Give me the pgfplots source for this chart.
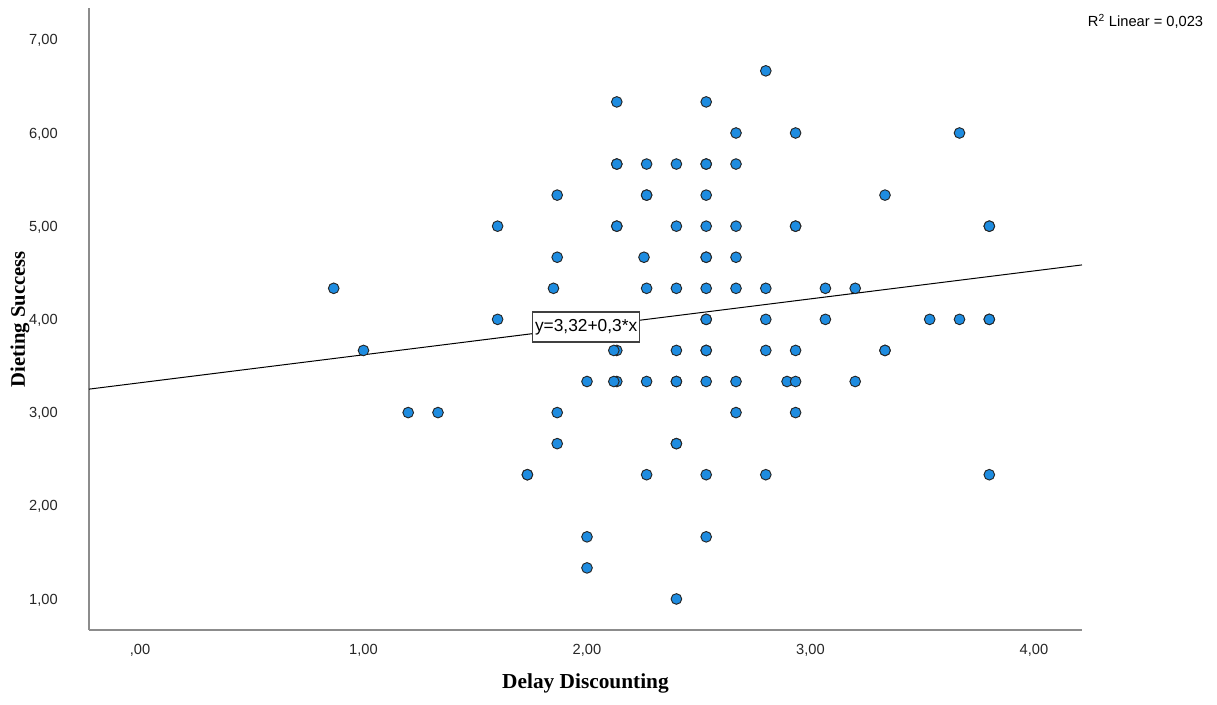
\documentclass[border=0pt]{standalone}
\usepackage{pgfplots}
\pgfplotsset{compat=1.18}
\usepackage{fontspec}
\setmainfont{Liberation Sans}
\newfontfamily\serifb{Liberation Serif}
\definecolor{dotblue}{HTML}{1E8CE0}
\definecolor{axgray}{HTML}{8C8C8C}
\begin{document}
\begin{tikzpicture}
\begin{axis}[
  at={(0,0)}, anchor=south west,
  scale only axis, width=744.75pt, height=466.5pt,
  xmin=-0.2282, xmax=4.2148, ymin=0.667, ymax=7.341,
  axis lines*=left, axis line style={-, axgray, line width=1.1pt},
  major tick length=0pt,
  xtick={0,1,2,3,4}, xticklabels={{,00},{1,00},{2,00},{3,00},{4,00}},
  ytick={1,2,3,4,5,6,7}, yticklabels={{1,00},{2,00},{3,00},{4,00},{5,00},{6,00},{7,00}},
  ticklabel style={font=\fontsize{11}{13}\selectfont, inner sep=0pt, text=black!85},
  xticklabel style={anchor=base, yshift=-18pt},
  yticklabel style={anchor=base east, xshift=-23.25pt, yshift=-3.9pt},
  xlabel={Delay Discounting}, ylabel={Dieting Success},
  xlabel style={at={(axis description cs:0.5,0)}, anchor=base, yshift=-43.5pt, inner sep=0pt, font=\serifb\bfseries\fontsize{16}{18}\selectfont},
  ylabel style={at={([xshift=-51.75pt]axis description cs:0,0.5)}, anchor=center, inner sep=0pt, font=\serifb\bfseries\fontsize{15.5}{18}\selectfont},
  clip=false,
]
\addplot[black, line width=0.75pt] coordinates {(-0.2282,3.2515) (4.2148,4.5844)};
\addplot[only marks, mark=*, mark size=4pt, mark options={fill=dotblue, draw=black!85, line width=0.7pt}] coordinates {
(0.8667,4.3333)
(1.0,3.6667)
(1.2,3.0) (1.3333,3.0)
(1.6,5.0) (1.6,4.0)
(1.7333,2.3333) (1.7333,2.3333)
(1.8667,5.3333) (1.8667,4.6667) (1.85,4.3333) (1.8667,3.0) (1.8667,2.6667)
(2.0,3.3333) (2.0,1.6667) (2.0,1.3333)
(2.1333,6.3333) (2.1333,5.6667) (2.1333,5.6667) (2.1333,5.0) (2.1333,5.0)
(2.1333,3.6667) (2.12,3.6667) (2.1333,3.3333) (2.12,3.3333)
(2.2667,5.6667) (2.2667,5.3333) (2.2667,5.3333) (2.255,4.6667) (2.2667,4.3333) (2.2667,3.3333) (2.2667,2.3333)
(2.4,5.6667) (2.4,5.0) (2.4,4.3333) (2.4,3.6667) (2.4,3.3333) (2.4,3.3333) (2.4,2.6667) (2.4,2.6667) (2.4,1.0)
(2.5333,6.3333) (2.5333,5.6667) (2.5333,5.6667) (2.5333,5.3333) (2.5333,5.0) (2.5333,4.6667) (2.5333,4.6667)
(2.5333,4.3333) (2.5333,4.0) (2.5333,4.0) (2.5333,3.6667) (2.5333,3.6667) (2.5333,3.3333) (2.5333,2.3333) (2.5333,1.6667)
(2.6667,6.0) (2.6667,5.6667) (2.6667,5.0) (2.6667,4.6667) (2.6667,4.3333) (2.6667,3.3333) (2.6667,3.0)
(2.8,6.6667) (2.8,4.3333) (2.8,4.0) (2.8,3.6667) (2.8,2.3333)
(2.895,3.3333)
(2.9333,6.0) (2.9333,5.0) (2.9333,5.0) (2.9333,3.6667) (2.9333,3.3333) (2.9333,3.0)
(3.0667,4.3333) (3.0667,4.0)
(3.2,4.3333) (3.2,3.3333)
(3.3333,5.3333) (3.3333,3.6667) (3.3333,3.6667)
(3.5333,4.0)
(3.6667,6.0) (3.6667,4.0)
(3.8,5.0) (3.8,5.0) (3.8,4.0) (3.8,4.0) (3.8,2.3333)
};
\node[draw=black!75, fill=white, line width=0.9pt, inner xsep=2pt, inner ysep=0pt, minimum height=22.5pt, font=\fontsize{13}{15}\selectfont] at (axis cs:1.996,3.919) {y=3,32+0,3*x};
\node[anchor=base, inner sep=0pt, font=\fontsize{11}{13}\selectfont] at ([xshift=792.4pt, yshift=452.25pt]rel axis cs:0,0) {R\textsuperscript{2} Linear = 0,023};
\end{axis}
\pgfresetboundingbox
\useasboundingbox (-66.75pt,-55.5pt) rectangle (846pt,472.5pt);
\end{tikzpicture}
\end{document}
